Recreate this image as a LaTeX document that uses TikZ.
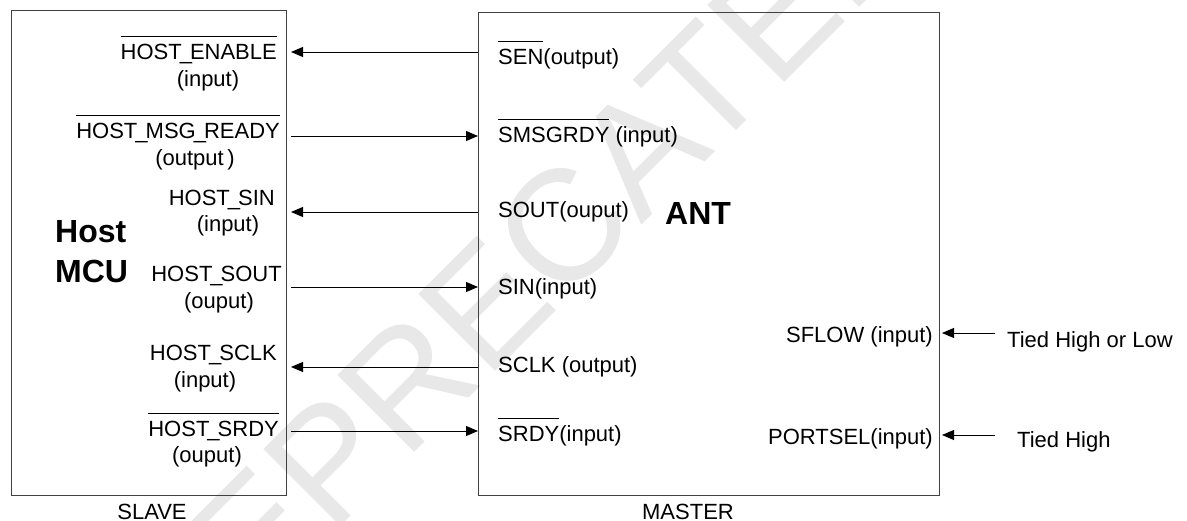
\documentclass[tikz,border=0pt]{standalone}
\usepackage{fontspec}
\setmainfont{Liberation Sans}
\usetikzlibrary{arrows.meta}
\newcommand{\ovl}[1]{\vbox{\hrule height 1pt\kern 8pt\hbox{#1}}}
\newcommand{\us}{\kern-2pt\_\kern-2pt}
\tikzset{
  box/.style={draw=black!75, line width=1.3pt, fill=none},
  sig/.style={-{Triangle[length=12pt,width=10pt]}, line width=0.9pt, black},
  lbl/.style={inner sep=0pt, font=\fontsize{22}{26}\selectfont},
  big/.style={inner sep=0pt, font=\fontsize{32}{36}\selectfont\bfseries},
  wmark/.style={inner sep=0pt, text=black!9, font=\fontsize{158}{158}\selectfont},
}
\begin{document}
\begin{tikzpicture}[x=1pt,y=-1pt]
\useasboundingbox (0,0) rectangle (1187,521);
\fill[white] (0,0) rectangle (1187,521);
% watermark
\node[wmark, rotate=45] (wm) at (515,275) {DEPRECATED};
% boxes
\node[box, anchor=north west, minimum width=275pt, minimum height=485pt] (slave) at (11,10) {};
\node[box, anchor=north west, minimum width=461pt, minimum height=483pt] (master) at (478,12) {};
% big titles
\node[big, anchor=base west] (host) at (55,243) {Host};
\node[big, anchor=base west] (mcu) at (55,283) {MCU};
\node[big, anchor=base west] (ant) at (665,225) {ANT};
% left labels
\node[lbl, anchor=base east] (l1) at (277,60) {\ovl{HOST\us ENABLE}};
\node[lbl, anchor=base] (l1b) at (208,87) {(input)};
\node[lbl, anchor=base east] (l2) at (280,139) {\ovl{HOST\us MSG\us READY}};
\node[lbl, anchor=base] (l2b) at (195,166) {(output\,)};
\node[lbl, anchor=base east] (l3) at (275,206) {HOST\us SIN};
\node[lbl, anchor=base] (l3b) at (228,232) {(input)};
\node[lbl, anchor=base east] (l4) at (282,282) {HOST\us SOUT};
\node[lbl, anchor=base] (l4b) at (219,309) {(ouput)};
\node[lbl, anchor=base east] (l5) at (277,361) {HOST\us SCLK};
\node[lbl, anchor=base] (l5b) at (205,388) {(input)};
\node[lbl, anchor=base east] (l6) at (279,437) {\ovl{HOST\us SRDY}};
\node[lbl, anchor=base] (l6b) at (207,463) {(ouput)};
% right labels
\node[lbl, anchor=base west] (r1) at (498,65) {\ovl{SEN}(output)};
\node[lbl, anchor=base west] (r2) at (498,143) {\ovl{SMSGRDY} (input)};
\node[lbl, anchor=base west] (r3) at (498,218) {SOUT(ouput)};
\node[lbl, anchor=base west] (r4) at (498,295) {SIN(input)};
\node[lbl, anchor=base west] (r5) at (498,373) {SCLK (output)};
\node[lbl, anchor=base west] (r6) at (498,442) {\ovl{SRDY}(input)};
\node[lbl, anchor=base east] (sflow) at (933,343) {SFLOW (input)};
\node[lbl, anchor=base east] (portsel) at (933,445) {PORTSEL(input)};
\node[lbl, anchor=base west] (tied1) at (1007,348) {Tied High or Low};
\node[lbl, anchor=base west] (tied2) at (1017,448) {Tied High};
\node[lbl, anchor=base] (slavelbl) at (152,519) {SLAVE};
\node[lbl, anchor=base] (masterlbl) at (688,519) {MASTER};
% connector ends
\coordinate (p1) at (291,52);
\coordinate (p2) at (291,136);
\coordinate (p3) at (291,212);
\coordinate (p4) at (291,287);
\coordinate (p5) at (291,367);
\coordinate (p6) at (291,431);
\coordinate (t1) at (995,333);
\coordinate (t2) at (995,435);
\coordinate (e1) at (942,333);
\coordinate (e2) at (942,435);
% connectors
\draw[sig] (master.west |- p1) -- (p1);
\draw[sig] (p2) -- (master.west |- p2);
\draw[sig] (master.west |- p3) -- (p3);
\draw[sig] (p4) -- (master.west |- p4);
\draw[sig] (master.west |- p5) -- (p5);
\draw[sig] (p6) -- (master.west |- p6);
\draw[sig] (t1) -- (e1);
\draw[sig] (t2) -- (e2);
\end{tikzpicture}
\end{document}
